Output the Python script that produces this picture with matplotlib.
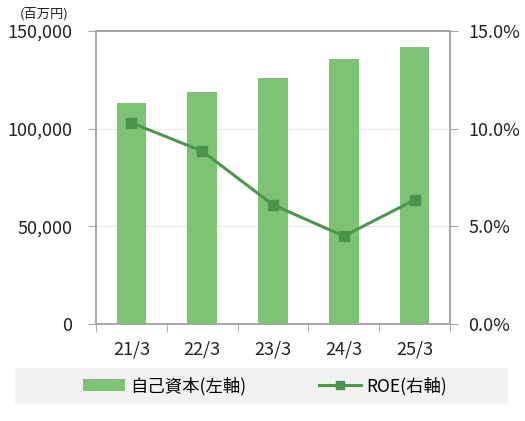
import matplotlib
matplotlib.use('Agg')
import matplotlib.pyplot as plt
from matplotlib.ticker import FuncFormatter, FixedLocator
from matplotlib.lines import Line2D
from matplotlib.patches import Patch

plt.rcParams['font.family'] = ['Noto Sans CJK JP', 'DejaVu Sans']

# data
years = ['21/3', '22/3', '23/3', '24/3', '25/3']
equity = [113000, 118700, 125800, 135600, 141700]   # 百万円
roe = [10.3, 8.85, 6.1, 4.5, 6.35]                  # %

bar_color = '#7DC374'
line_color = '#4B984A'
spine_color = '#A6A6A6'

fig = plt.figure(figsize=(5.25, 4.21), dpi=100)
ax = fig.add_axes([96/525, 1 - 324/421, 354/525, 293/421])
x = list(range(len(years)))
ax.bar(x, equity, width=0.42, color=bar_color, zorder=2)
ax.set_xlim(-0.5, len(years) - 0.5)
ax.set_ylim(0, 150000)
ax.set_yticks([0, 50000, 100000, 150000])
ax.yaxis.set_major_formatter(FuncFormatter(lambda v, p: f'{int(v):,}'))
ax.set_xticks(x)
ax.set_xticklabels(years)
ax.xaxis.set_minor_locator(FixedLocator([i - 0.5 for i in range(len(years) + 1)]))
ax.tick_params(axis='x', which='major', length=0, pad=12, labelsize=13, colors='#222222')
ax.tick_params(axis='x', which='minor', length=6, color=spine_color, direction='out')
ax.tick_params(axis='y', length=6, color=spine_color, labelsize=13, labelcolor='#222222', pad=11)
ax.grid(axis='y', color='#EAEAEA', linewidth=0.8, zorder=0)
for s in ax.spines.values():
    s.set_color(spine_color)
    s.set_linewidth(1.2)

ax2 = ax.twinx()
ax2.plot(x, roe, color=line_color, linewidth=2.2, marker='s', markersize=7,
         markerfacecolor='#4A9549', markeredgecolor='#4A9549', zorder=3)
ax2.set_ylim(0, 15)
ax2.set_yticks([0, 5, 10, 15])
ax2.yaxis.set_major_formatter(FuncFormatter(lambda v, p: f'{v:.1f}%'))
ax2.tick_params(axis='y', length=6, color=spine_color, labelsize=13, labelcolor='#222222', pad=7)
for s in ax2.spines.values():
    s.set_color(spine_color)
    s.set_linewidth(1.2)

fig.text(44/525, 1 - 14/421, '(百万円)', fontsize=9.5, ha='center', va='center', color='#222222')

# legend band
handles = [Patch(facecolor=bar_color, edgecolor='none'),
           Line2D([0], [0], color=line_color, linewidth=2.2, marker='s', markersize=6,
                  markerfacecolor='#4A9549', markeredgecolor='#4A9549')]
leg = fig.legend(handles, ['自己資本(左軸)', 'ROE(右軸)'], loc='center',
                 bbox_to_anchor=(265/525, 1 - 386/421), ncol=2, frameon=False,
                 fontsize=12.5, columnspacing=4.2, handlelength=2.4, handletextpad=0.3)
fig.patches.append(plt.Rectangle((15/525, 1 - 404/421), 493/525, 36/421,
                                 transform=fig.transFigure, facecolor='#F2F2F2',
                                 edgecolor='none', zorder=-1))

fig.savefig('out.png', dpi=100)
